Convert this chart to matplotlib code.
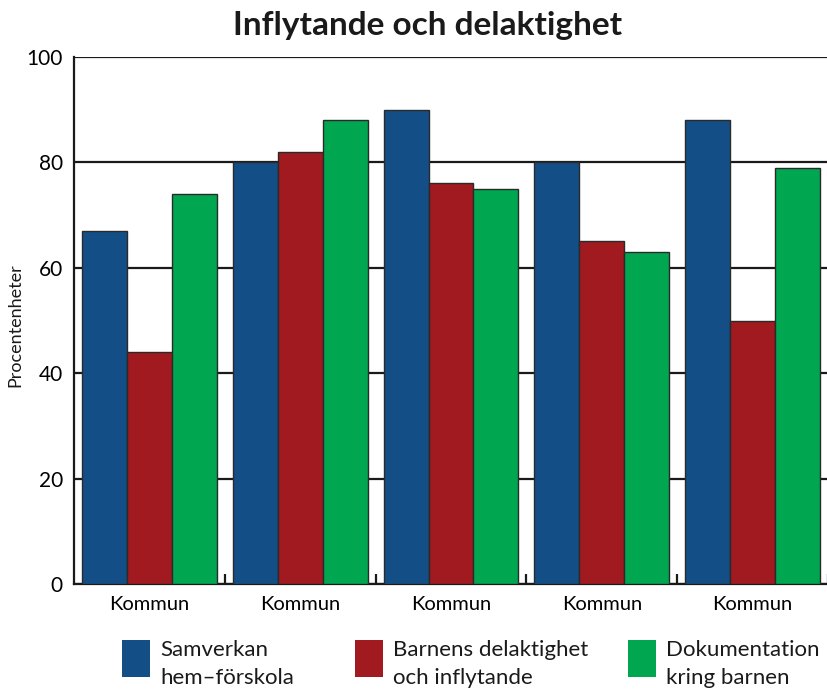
import matplotlib
matplotlib.use("Agg")
import matplotlib.pyplot as plt
from matplotlib.patches import Rectangle
import numpy as np

plt.rcParams["font.family"] = ["Lato", "DejaVu Sans"]

# data
categories = ["Kommun", "Kommun", "Kommun", "Kommun", "Kommun"]
series = ["Samverkan\nhem–förskola", "Barnens delaktighet\noch inflytande", "Dokumentation\nkring barnen"]
samverkan = [67, 80, 90, 80, 88]
delaktighet = [44, 82, 76, 65, 50]
dokumentation = [74, 88, 75, 63, 79]
colors = ["#134f86", "#a01a1f", "#00a650"]

W, H = 828, 691
fig = plt.figure(figsize=(W / 100, H / 100), dpi=100)
ax = fig.add_axes([74 / W, 1 - 584 / H, 1 - 74 / W, (584 - 57) / H])

x = np.arange(len(categories))
w = 0.298
for i, vals in enumerate([samverkan, delaktighet, dokumentation]):
    ax.bar(x + (i - 1) * w, vals, width=w, color=colors[i], edgecolor="#2a2a2a",
           linewidth=1.0, zorder=3)

ax.set_xlim(-0.5, 4.5)
ax.set_ylim(0, 100)
ax.set_yticks([0, 20, 40, 60, 80, 100])
ax.tick_params(axis="y", length=0, labelsize=15, pad=8)
ax.yaxis.grid(True, color="#1a1a1a", linewidth=1.6, zorder=0)
ax.set_axisbelow(True)

ax.set_xticks(x)
ax.set_xticklabels(categories)
ax.tick_params(axis="x", which="major", length=0, labelsize=14.5, pad=9)
ax.set_xticks(x + 0.5, minor=True)
ax.tick_params(axis="x", which="minor", direction="in", length=7, width=1.6, color="#1a1a1a")

for s in ["top", "right"]:
    ax.spines[s].set_visible(False)
for s in ["left", "bottom"]:
    ax.spines[s].set_linewidth(1.6)
    ax.spines[s].set_color("#1a1a1a")

fig.text(15 / W, 1 - 325 / H, "Procentenheter", rotation=90, ha="center", va="center",
         fontsize=13, color="#1a1a1a")
fig.text(428 / W, 1 - 26 / H, "Inflytande och delaktighet", ha="center", va="center",
         fontsize=24, fontweight="bold", color="#1a1a1a")

# legend, laid out by hand
legend_x = [122, 355, 628]
for i, lab in enumerate(series):
    fig.patches.append(Rectangle((legend_x[i] / W, 1 - 677 / H), 28 / W, 37 / H,
                                 transform=fig.transFigure, facecolor=colors[i],
                                 edgecolor="none"))
    fig.text((legend_x[i] + 38) / W, 1 - 664 / H, lab, ha="left", va="center",
             fontsize=16, color="#1a1a1a", linespacing=1.45)

plt.savefig("out.png", dpi=100)
plt.close()
